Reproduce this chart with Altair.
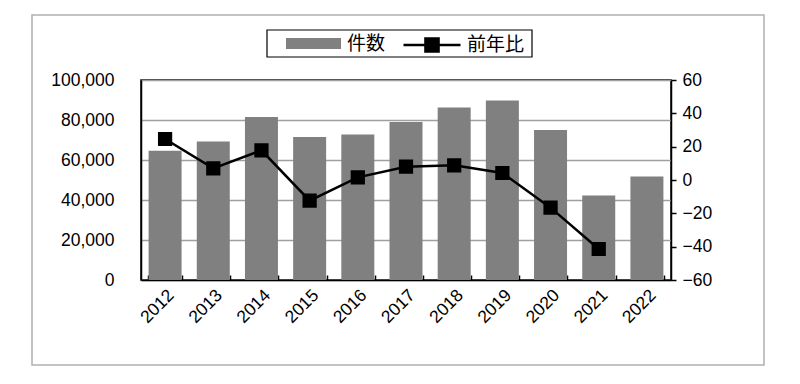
import altair as alt
import pandas as pd

years = ["2012", "2013", "2014", "2015", "2016", "2017", "2018", "2019", "2020", "2021", "2022"]
counts = [64600, 69200, 81500, 71500, 72800, 79000, 86200, 89800, 75000, 42200, 51700]
yoy = [24.6, 7.0, 17.8, -12.4, 1.6, 8.0, 8.8, 4.2, -16.6, -41.4, None]

df = pd.DataFrame({"year": years, "count": counts, "yoy": yoy})

FONT = "Liberation Sans"
CJK = "Noto Sans CJK JP"

xscale = alt.Scale(paddingInner=0.3, paddingOuter=0.15)

# decorative frames (outer border and legend box)
frame = pd.DataFrame({"k": [0]})
outer = alt.Chart(frame).mark_rect(fill=None, stroke="#b0b0b0", strokeWidth=1.5).encode(
    x=alt.value(-109), x2=alt.value(623), y=alt.value(-65), y2=alt.value(285)
)
legbox = alt.Chart(frame).mark_rect(fill=None, stroke="black", strokeWidth=1.2).encode(
    x=alt.value(126), x2=alt.value(391), y=alt.value(-50), y2=alt.value(-23)
)

bars = alt.Chart(df).transform_calculate(s1="'件数'").mark_bar(size=33).encode(
    x=alt.X("year:O", scale=xscale, title=None,
            axis=alt.Axis(orient="bottom", labelAngle=315, labelFont=FONT, labelFontSize=17.5,
                          labelColor="black", domainColor="black", domainWidth=1.5,
                          ticks=False, labelPadding=6)),
    y=alt.Y("count:Q", scale=alt.Scale(domain=[0, 100000], nice=False), title=None,
            axis=alt.Axis(values=[0, 20000, 40000, 60000, 80000, 100000], format=",d",
                          labelFont=FONT, labelFontSize=17.5, labelColor="black", ticks=False,
                          labelPadding=27, domainColor="black", domainWidth=1.5,
                          grid=True, gridColor="#a0a0a0", gridWidth=1.5)),
    color=alt.Color("s1:N", scale=alt.Scale(domain=["件数"], range=["#808080"]),
                    legend=alt.Legend(orient="none", legendX=145, legendY=-64, title=None,
                                      symbolType="M-1,-0.2H1V0.2H-1Z", symbolSize=3025,
                                      symbolStrokeWidth=0, labelFont=CJK, labelFontSize=19,
                                      labelColor="black", labelOffset=6, padding=0)),
)

line = alt.Chart(df).transform_calculate(s2="'前年比'").mark_line(
    color="black", strokeWidth=2.5,
    point=alt.OverlayMarkDef(shape="square", size=150, filled=True, color="black"),
).encode(
    x=alt.X("year:O", scale=xscale, title=None,
            axis=alt.Axis(orient="top", labels=False, domain=False, ticks=True, tickBand="extent",
                          tickSize=5, tickColor="black", tickWidth=1.5, offset=-200, grid=False)),
    y=alt.Y("yoy:Q", scale=alt.Scale(domain=[-60, 60], nice=False), title=None,
            axis=alt.Axis(orient="right", values=[-60, -40, -20, 0, 20, 40, 60],
                          labelFont=FONT, labelFontSize=17.5, labelColor="black",
                          tickColor="black", tickSize=5, tickWidth=1.5, labelPadding=6,
                          domainColor="black", domainWidth=1.5, grid=False)),
    stroke=alt.Stroke("s2:N", scale=alt.Scale(domain=["前年比"], range=["black"]),
                      legend=alt.Legend(orient="none", legendX=261, legendY=-65, title=None,
                                        symbolType="M-1,0H1M-0.23,-0.23H0.23V0.23H-0.23Z",
                                        symbolSize=3249, symbolStrokeWidth=2.5,
                                        symbolFillColor="black", symbolStrokeColor="black",
                                        labelFont=CJK, labelFontSize=19, labelColor="black",
                                        labelOffset=5, padding=0)),
)

chart = alt.layer(outer, legbox, bars, line).resolve_scale(
    y="independent", color="independent"
).resolve_axis(x="independent").properties(
    width=530, height=200,
    autosize=alt.AutoSizeParams(type="none"),
    padding={"left": 133, "top": 72, "right": 121, "bottom": 96},
).configure_view(stroke="black", strokeWidth=1.5)

chart.save("out.html", embed_options={"renderer": "svg", "actions": False})
